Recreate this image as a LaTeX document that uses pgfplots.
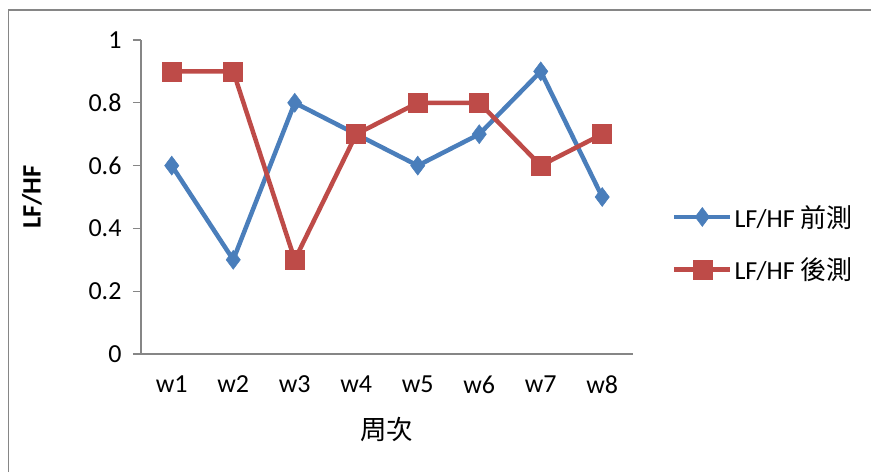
\documentclass[border=0pt]{standalone}
\usepackage{pgfplots}
\pgfplotsset{compat=1.18}
\usepackage{fontspec}
\setmainfont{Carlito}
\newfontfamily\cjk{Noto Sans CJK TC}

\definecolor{preblue}{HTML}{4A7EBB}
\definecolor{postred}{HTML}{BE4B48}
\definecolor{framegray}{HTML}{868686}

\begin{document}
\begin{tikzpicture}
% page area
\useasboundingbox (0pt,0pt) rectangle (871pt,472pt);
% chart frame (top and left edges visible)
\draw[framegray, line width=1.6pt] (8.5pt,0pt) -- (8.5pt,462pt) -- (871pt,462pt);

\begin{axis}[
  at={(141pt,118pt)}, anchor=origin,
  scale only axis, width=492pt, height=314pt,
  xmin=0.5, xmax=8.5, ymin=0, ymax=1,
  axis x line*=bottom, axis y line*=left,
  axis line style={framegray, line width=1.3pt},
  xtick={1,...,8},
  xticklabels={w1,w2,w3,w4,w5,w6,w7,w8},
  ytick={0,0.2,0.4,0.6,0.8,1},
  yticklabels={0,0.2,0.4,0.6,0.8,1},
  tick align=outside,
  major tick length=8pt,
  ytick style={framegray, line width=1.3pt},
  xtick style={draw=none},
  tick label style={font=\fontsize{26}{30}\selectfont},
  xticklabel style={yshift=-10pt},
  yticklabel style={xshift=-8pt},
  /pgf/number format/assume math mode=true,
  xlabel={\cjk 周次},
  ylabel={\bfseries LF/HF},
  every axis x label/.style={at={(axis description cs:0.5,-0.239)}, anchor=center, font=\fontsize{26.5}{30}\selectfont},
  every axis y label/.style={at={(axis description cs:-0.2215,0.5)}, rotate=90, anchor=center, font=\fontsize{26.5}{30}\selectfont},
  legend style={at={(axis description cs:1.079,0.353)}, anchor=west, draw=none, fill=none,
    font=\fontsize{26}{30}\selectfont, row sep=25pt, inner sep=0pt},
  legend cell align=left,
  legend image code/.code={%
    \draw[mark repeat=2,mark phase=2,#1] plot coordinates {(0pt,0pt) (28pt,0pt) (56pt,0pt)};},
]
\addplot[preblue, line width=4.5pt, mark=diamond*, mark size=9.5pt,
  mark options={solid, line width=0.5pt, fill=preblue}]
  coordinates {(1,0.6) (2,0.3) (3,0.8) (4,0.7) (5,0.6) (6,0.7) (7,0.9) (8,0.5)};
\addlegendentry{LF/HF {\cjk 前測}}
\addplot[postred, line width=4.5pt, mark=square*, mark size=9.5pt,
  mark options={solid, line width=0.5pt, fill=postred}]
  coordinates {(1,0.9) (2,0.9) (3,0.3) (4,0.7) (5,0.8) (6,0.8) (7,0.6) (8,0.7)};
\addlegendentry{LF/HF {\cjk 後測}}
\end{axis}
\end{tikzpicture}
\end{document}
